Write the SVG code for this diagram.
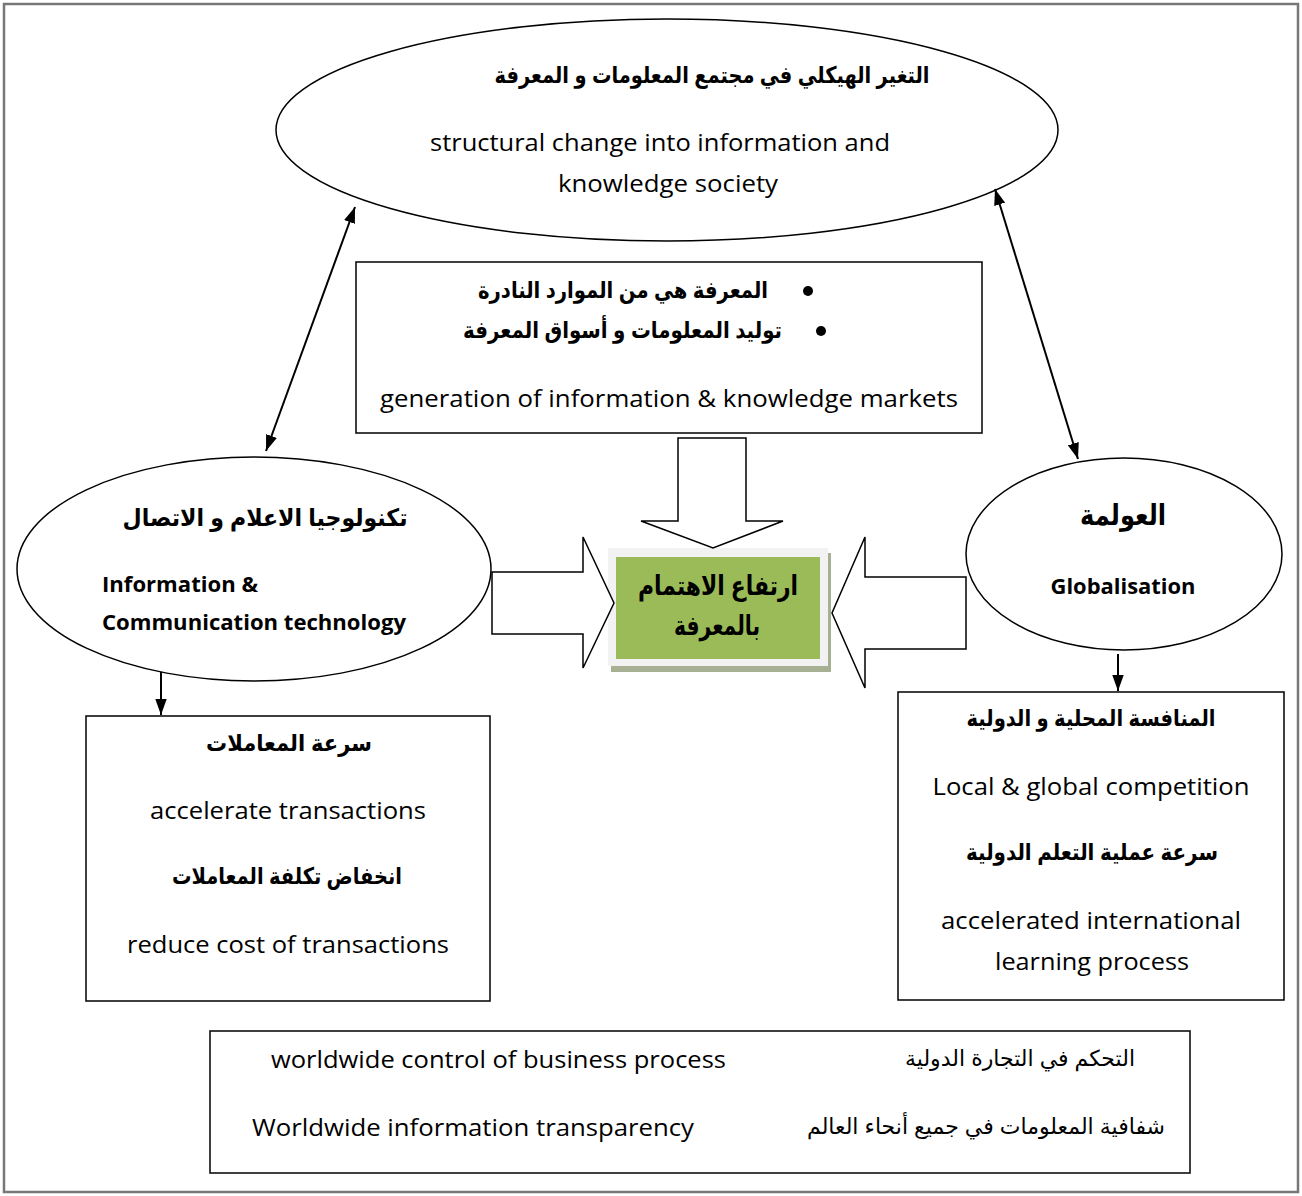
<svg xmlns="http://www.w3.org/2000/svg" width="1302" height="1196" viewBox="0 0 1302 1196">
  <style>
    .line { fill: none; stroke: #000; stroke-width: 2; }
    .shape { fill: #fff; stroke: #000; stroke-width: 1.5; }
    .en { font-family: "Open Sans", "Liberation Sans", sans-serif; font-size: 23px; fill: #000; }
    .enb { font-family: "Open Sans", "Liberation Sans", sans-serif; font-size: 21px; font-weight: bold; fill: #000; }
    .ar { font-family: "Liberation Sans", "DejaVu Sans", sans-serif; font-size: 23px; font-weight: bold; fill: #000; }
    .arr { font-family: "Liberation Sans", "DejaVu Sans", sans-serif; font-size: 22px; fill: #000; }
    .c { text-anchor: middle; }
  </style>
  <defs>
    <marker id="head" viewBox="0 0 14 10" refX="14" refY="5" markerWidth="8" markerHeight="6" orient="auto-start-reverse" markerUnits="strokeWidth">
      <path d="M0,0 L14,5 L0,10 Z" fill="#000"/>
    </marker>
  </defs>

  <rect width="1302" height="1196" fill="#fff"/>
  <!-- page frame -->
  <rect x="4" y="4" width="1294" height="1188" fill="none" stroke="#777" stroke-width="2.5"/>

  <!-- top ellipse: structural change -->
  <g id="structural-change">
    <ellipse class="shape" cx="667" cy="130" rx="391" ry="111"/>
    <text class="ar c" x="712" y="83" textLength="435" lengthAdjust="spacingAndGlyphs">التغير الهيكلي في مجتمع المعلومات و المعرفة</text>
    <text class="en c" x="660" y="151" textLength="460" lengthAdjust="spacingAndGlyphs">structural change into information and</text>
    <text class="en c" x="668" y="192" textLength="220" lengthAdjust="spacingAndGlyphs">knowledge society</text>
  </g>

  <!-- knowledge markets box -->
  <g id="knowledge-markets">
    <rect class="shape" x="356" y="262" width="626" height="171"/>
    <circle cx="808" cy="291" r="5" fill="#000"/>
    <text class="ar" x="768" y="298" text-anchor="end" textLength="290" lengthAdjust="spacingAndGlyphs">المعرفة هي من الموارد النادرة</text>
    <circle cx="821" cy="331" r="5" fill="#000"/>
    <text class="ar" x="782" y="338" text-anchor="end" textLength="319" lengthAdjust="spacingAndGlyphs">توليد المعلومات و أسواق المعرفة</text>
    <text class="en c" x="669" y="407" textLength="578" lengthAdjust="spacingAndGlyphs">generation of information &amp; knowledge markets</text>
  </g>

  <!-- central result -->
  <g id="knowledge-interest">
    <rect x="611" y="553" width="220" height="119" fill="#a8b094"/>
    <rect x="608" y="548" width="220" height="118" fill="#f2f2f2"/>
    <rect x="616" y="557" width="204" height="102" fill="#9bbb59"/>
    <text class="ar c" x="718" y="595" style="font-size:27px" textLength="160" lengthAdjust="spacingAndGlyphs">ارتفاع  الاهتمام</text>
    <text class="ar c" x="717" y="635" style="font-size:27px" textLength="86" lengthAdjust="spacingAndGlyphs">بالمعرفة</text>
  </g>

  <!-- ICT ellipse -->
  <g id="ict">
    <ellipse class="shape" cx="254" cy="569" rx="237" ry="112"/>
    <text class="ar c" x="265" y="526" style="font-size:24px" textLength="285" lengthAdjust="spacingAndGlyphs">تكنولوجيا الاعلام و الاتصال</text>
    <text class="enb" x="102" y="592" textLength="156" lengthAdjust="spacingAndGlyphs">Information &amp;</text>
    <text class="enb" x="102" y="630" textLength="304" lengthAdjust="spacingAndGlyphs">Communication technology</text>
  </g>

  <!-- globalisation ellipse -->
  <g id="globalisation">
    <ellipse class="shape" cx="1124" cy="554" rx="158" ry="96"/>
    <text class="ar c" x="1123" y="525" style="font-size:29px" textLength="86" lengthAdjust="spacingAndGlyphs">العولمة</text>
    <text class="enb c" x="1123" y="594" textLength="145" lengthAdjust="spacingAndGlyphs">Globalisation</text>
  </g>

  <!-- transactions box -->
  <g id="transactions">
    <rect class="shape" x="86" y="716" width="404" height="285"/>
    <text class="ar c" x="289" y="751" textLength="166" lengthAdjust="spacingAndGlyphs">سرعة  المعاملات</text>
    <text class="en c" x="288" y="819" textLength="276" lengthAdjust="spacingAndGlyphs">accelerate transactions</text>
    <text class="ar c" x="287" y="884" textLength="230" lengthAdjust="spacingAndGlyphs">انخفاض تكلفة المعاملات</text>
    <text class="en c" x="288" y="953" textLength="322" lengthAdjust="spacingAndGlyphs">reduce cost of transactions</text>
  </g>

  <!-- competition box -->
  <g id="competition">
    <rect class="shape" x="898" y="692" width="386" height="308"/>
    <text class="ar c" x="1091" y="726" textLength="249" lengthAdjust="spacingAndGlyphs">المنافسة المحلية و الدولية</text>
    <text class="en c" x="1091" y="795" textLength="317" lengthAdjust="spacingAndGlyphs">Local &amp; global competition</text>
    <text class="ar c" x="1092" y="860" textLength="252" lengthAdjust="spacingAndGlyphs">سرعة عملية التعلم الدولية</text>
    <text class="en c" x="1091" y="929" textLength="300" lengthAdjust="spacingAndGlyphs">accelerated international</text>
    <text class="en c" x="1092" y="970" textLength="194" lengthAdjust="spacingAndGlyphs">learning process</text>
  </g>

  <!-- worldwide box -->
  <g id="worldwide">
    <rect class="shape" x="210" y="1031" width="980" height="142"/>
    <text class="en" x="271" y="1068" textLength="455" lengthAdjust="spacingAndGlyphs">worldwide control of business process</text>
    <text class="arr" x="1135" y="1066" text-anchor="end" textLength="230" lengthAdjust="spacingAndGlyphs">التحكم في التجارة الدولية</text>
    <text class="en" x="252" y="1136" textLength="442" lengthAdjust="spacingAndGlyphs">Worldwide information transparency</text>
    <text class="arr" x="1165" y="1134" text-anchor="end" textLength="358" lengthAdjust="spacingAndGlyphs">شفافية المعلومات في جميع أنحاء العالم</text>
  </g>

  <!-- connectors -->
  <g id="connectors">
    <line class="line" x1="266" y1="451" x2="355" y2="207" marker-start="url(#head)" marker-end="url(#head)"/>
    <line class="line" x1="995" y1="189" x2="1078" y2="459" marker-start="url(#head)" marker-end="url(#head)"/>
    <line class="line" x1="161" y1="672" x2="161" y2="715" marker-end="url(#head)"/>
    <line class="line" x1="1118" y1="654" x2="1118" y2="691" marker-end="url(#head)"/>
    <!-- block arrows into the central box -->
    <path class="shape" d="M678,438 H746 V521 H783 L713,548 L641,521 H678 Z"/>
    <path class="shape" d="M492,572 H583 V537 L614,603 L583,668 V634 H492 Z"/>
    <path class="shape" d="M966,577 H865 V537 L832,613 L865,688 V649 H966 Z"/>
  </g>
</svg>
